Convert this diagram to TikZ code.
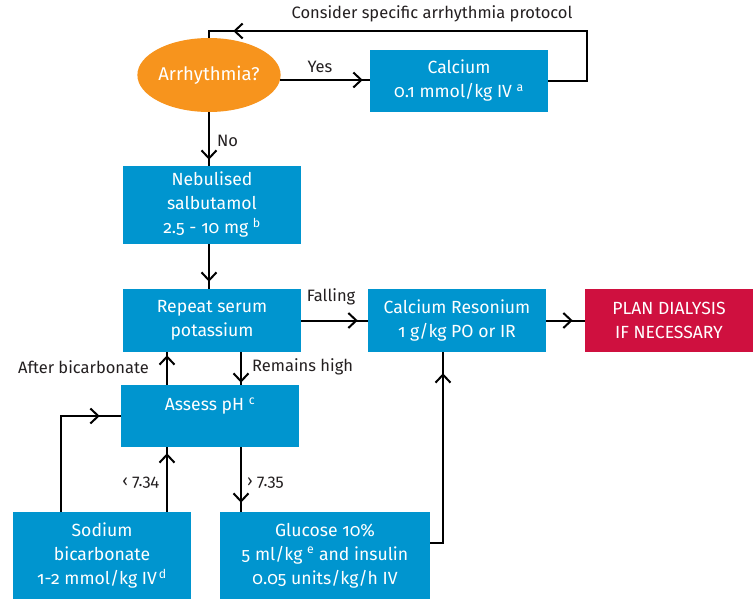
\documentclass[tikz,border=0pt]{standalone}
\usepackage{fontspec}
\setmainfont{Fira Sans}[Numbers=OldStyle]
\usetikzlibrary{arrows.meta,decorations.markings,shapes.geometric,calc}
\definecolor{stepblue}{RGB}{0,149,207}
\definecolor{askorange}{RGB}{247,148,29}
\definecolor{alertred}{RGB}{207,16,63}
\definecolor{inkgray}{RGB}{35,31,32}

\begin{document}
\begin{tikzpicture}[x=1pt,y=-1pt,
  every node/.style={font=\fontsize{16.5}{24}\selectfont},
  box/.style={fill=stepblue, text=white, align=center, inner sep=0pt,
    font=\fontsize{17.6}{24}\selectfont},
  lbl/.style={text=inkgray, inner sep=0pt},
  flow/.style={line width=2pt, postaction={decorate},
    decoration={markings, mark=at position -#1pt with
      {\arrow{Straight Barb[length=8pt,width=15pt,line width=2pt]}}}}
]
\useasboundingbox (0,0) rectangle (753,599);

% decision and treatment boxes
\node[ellipse, fill=askorange, text=white, minimum width=126, minimum height=74, inner sep=0pt,
  font=\fontsize{18.5}{24}\selectfont] (ask) at (209,75) {Arrhythmia?};
\node[box, minimum width=178, minimum height=62] (calcium) at (459,81)
  {Calcium\\0.1 mmol/kg IV \textsuperscript{a}};
\node[box, minimum width=178, minimum height=78] (neb) at (212,205)
  {Nebulised\\salbutamol\\2.5 - 10 mg \textsuperscript{b}};
\node[box, minimum width=178, minimum height=63] (repeat) at (212,320.5)
  {Repeat serum\\potassium};
\node[box, minimum width=178, minimum height=62] (assess) at (210,416)
  {Assess pH \textsuperscript{c}\\\mbox{}};
\node[box, minimum width=178, minimum height=63] (reson) at (457,320.5)
  {Calcium Resonium\\1 g/kg PO or IR};
\node[box, fill=alertred, minimum width=168, minimum height=63] (plan) at (669,320.5)
  {PLAN DIALYSIS\\IF NECESSARY};
\node[box, minimum width=178, minimum height=87] (sodium) at (102,555.5)
  {Sodium\\bicarbonate\\1-2 mmol/kg IV\textsuperscript{\,d}};
\node[box, minimum width=210, minimum height=87] (glucose) at (325,555.5)
  {Glucose 10\%\\5 ml/kg \textsuperscript{e} and insulin\\0.05 units/kg/h IV};

% connectors
\draw[flow=7] (ask.-4) -- (ask.-4 -| calcium.west);
\coordinate (loopR) at (587,31);
\draw[flow=31] (calcium.east) -| (loopR) -| (ask.north);
\draw[flow=6] (ask.south) -- (ask.south |- neb.north);
\draw[flow=7] (ask.south |- neb.south) -- (ask.south |- repeat.north);
\draw[flow=10] (repeat.east) -- (reson.west);
\draw[flow=12] (reson.east) -- (plan.west);
\draw[flow=3] ([xshift=-43pt]assess.north) -- ([xshift=-43pt]assess.north |- repeat.south);
\draw[flow=2] ([xshift=31pt]assess.north |- repeat.south) -- ([xshift=31pt]assess.north);
\draw[flow=21] ([xshift=-41pt]sodium.north) |- (assess.west);
\draw[flow=6] ([xshift=-43pt]assess.south |- sodium.north) -- ([xshift=-43pt]assess.south);
\draw[flow=9] ([xshift=31pt]assess.south) -- ([xshift=31pt]assess.south |- glucose.north);
\draw[flow=21] ([yshift=12.5pt]glucose.east) -| ([xshift=-14pt]reson.south);

% connector labels
\node[lbl] (tProtocol) at (432,14) {Consider specific arrhythmia protocol};
\node[lbl] (tYes) at (320,67) {Yes};
\node[lbl, anchor=west] (tNo) at (217,141) {No};
\node[lbl] (tFalling) at (331,297) {Falling};
\node[lbl, anchor=east] (tAfter) at (149,367) {After bicarbonate};
\node[lbl, anchor=west] (tHigh) at (252,367) {Remains high};
\node[lbl, anchor=east] (tLow) at (159,483) {‹ 7.34};
\node[lbl, anchor=west] (tAbove) at (247,483) {› 7.35};
\end{tikzpicture}
\end{document}
